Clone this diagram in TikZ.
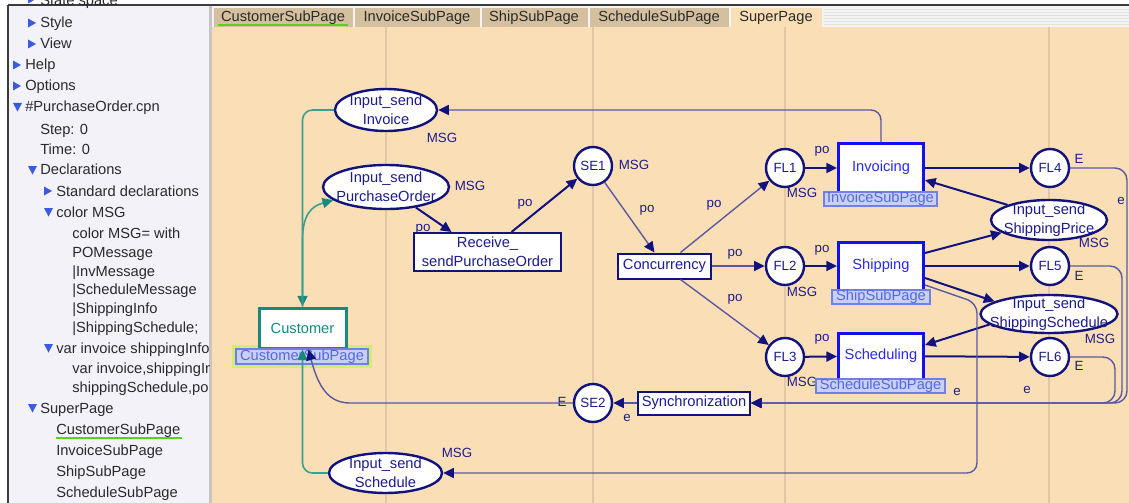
\documentclass[tikz,border=0pt]{standalone}
\usepackage{fontspec}
\setmainfont{Liberation Sans}
\usetikzlibrary{arrows.meta,shapes.geometric}
\newcommand\pxu{0.75pt}
\definecolor{canvasbg}{HTML}{FADEB6}
\definecolor{gridc}{HTML}{E0C8A6}
\definecolor{panelbg}{HTML}{F3F2F9}
\definecolor{cpnnavy}{HTML}{12127C}
\definecolor{cpntext}{HTML}{1C1C8C}
\definecolor{cpnmuted}{HTML}{5A5AA2}
\definecolor{subblue}{HTML}{1010F0}
\definecolor{subtext}{HTML}{2B2BE6}
\definecolor{tagfill}{HTML}{C9D0F7}
\definecolor{tagdraw}{HTML}{7080E4}
\definecolor{tagtext}{HTML}{5568E2}
\definecolor{tealbox}{HTML}{178A7C}
\definecolor{tealline}{HTML}{3C9E8F}
\definecolor{tabbg}{HTML}{D4C09E}
\definecolor{tabtext}{HTML}{2A2A2A}
\definecolor{trib}{HTML}{3A5AE4}
\definecolor{greenhl}{HTML}{5CD11A}
\definecolor{glowc}{HTML}{D2EE72}
\definecolor{darkline}{HTML}{3C3C3C}
\definecolor{stripec}{HTML}{E2E2E2}
\definecolor{rowbg}{HTML}{F4F4F4}
\newcommand\rtri[2]{\fill[trib] (#1,#2-4.5) -- (#1+8,#2) -- (#1,#2+4.5) -- cycle;}
\newcommand\dtri[2]{\fill[trib] (#1,#2-4) -- (#1+9,#2-4) -- (#1+4.5,#2+4.5) -- cycle;}
\tikzset{
  ptxt/.style={anchor=base west, inner sep=0pt, text=tabtext, font=\fontsize{11}{13}\selectfont},
  tabtxt/.style={anchor=base, inner sep=0pt, text=tabtext, font=\fontsize{11}{13}\selectfont},
  place/.style={ellipse, draw=cpnnavy, line width=2.4*\pxu, fill=white, inner sep=0pt},
  cplace/.style={circle, draw=cpnnavy, line width=2.4*\pxu, fill=white, inner sep=0pt, minimum size=38*\pxu, text=cpntext, font=\fontsize{10}{12}\selectfont},
  ptext/.style={align=center, text=cpntext, font=\fontsize{11}{14.25}\selectfont, inner sep=0pt},
  trans/.style={rectangle, draw=cpnnavy, line width=2*\pxu, fill=white, inner sep=0pt, align=center, text=cpntext, font=\fontsize{11}{14.25}\selectfont},
  subtrans/.style={rectangle, draw=subblue, line width=3*\pxu, fill=white, inner sep=0pt, text=subtext, font=\fontsize{11}{13}\selectfont, minimum width=85*\pxu},
  subtag/.style={rectangle, draw=tagdraw, line width=1.2*\pxu, fill=tagfill, inner sep=0pt, text=tagtext, font=\fontsize{11}{13}\selectfont, minimum height=14*\pxu},
  lbl/.style={inner sep=0pt, text=cpntext, font=\fontsize{10}{12}\selectfont, text height=7.3pt, text depth=1.8pt},
  headtip/.style={-{Triangle[length=8pt,width=7.5pt,color=cpnnavy]}},
  arcT/.style={draw=cpnnavy, line width=2*\pxu, headtip},
  arcM/.style={draw=cpnmuted, line width=1.4*\pxu, headtip},
  arcG/.style={draw=tealline, line width=1.6*\pxu, -{Triangle[length=8pt,width=7.5pt,color=tealbox]}},
}
\begin{document}
\begin{tikzpicture}[x=0.75pt,y=-0.75pt]
\useasboundingbox (0,0) rectangle (1129,503);
\fill[white] (0,0) rectangle (1129,503);
% panel
\fill[panelbg] (8,5) rectangle (209,503);
\fill[gray!45] (209,5) rectangle (212,503);
% canvas
\fill[canvasbg] (212,27) rectangle (1129,503);
% tab row
\fill[rowbg] (212,6) rectangle (1129,27);
\foreach \yy in {10,13,16,19,22,25}{\draw[stripec, line width=1*\pxu] (824,\yy) -- (1129,\yy);}
\fill[tabbg] (214,8) rectangle (353,27);
\fill[tabbg] (355,8) rectangle (480,27);
\fill[tabbg] (482,8) rectangle (588,27);
\fill[tabbg] (590,8) rectangle (729,27);
\fill[canvasbg] (731,8) rectangle (822,27);
\node[tabtxt] (t1) at (283,22) {CustomerSubPage};
\node[tabtxt] (t2) at (417,22) {InvoiceSubPage};
\node[tabtxt] (t3) at (534,22) {ShipSubPage};
\node[tabtxt] (t4) at (659,22) {ScheduleSubPage};
\node[tabtxt] (t5) at (776,22) {SuperPage};
\draw[greenhl, line width=2*\pxu] (218,25.5) -- (348,25.5);
% grid
\foreach \gx in {386,593,785,1049}{\draw[gridc, line width=2*\pxu] (\gx,27) -- (\gx,503);}
% frame lines
\draw[darkline, line width=2*\pxu] (8,5) -- (1129,5);
\draw[darkline, line width=2*\pxu] (8,5) -- (8,503);
% panel content
\begin{scope}
\clip (9,0) rectangle (209,503);
\node[ptxt] (s0) at (40,5.5) {State space};
\rtri{28}{-1}
\rtri{28}{23}  \node[ptxt] (s1) at (40,28) {Style};
\rtri{28}{44}  \node[ptxt] (s2) at (40,49) {View};
\rtri{13}{65}  \node[ptxt] (s3) at (25,70) {Help};
\rtri{13}{86}  \node[ptxt] (s4) at (25,91) {Options};
\dtri{13}{107} \node[ptxt] (s5) at (25,112) {\#PurchaseOrder.cpn};
\node[ptxt] (s6) at (40,134) {Step: 0};
\node[ptxt] (s7) at (40,154) {Time: 0};
\dtri{28}{170} \node[ptxt] (s8) at (40,175) {Declarations};
\rtri{44}{191} \node[ptxt] (s9) at (56,196) {Standard declarations};
\dtri{44}{212} \node[ptxt] (s10) at (56,217) {color MSG};
\node[ptxt] (s11) at (72,238) {color MSG= with};
\node[ptxt] (s12) at (72,257) {POMessage};
\node[ptxt] (s13) at (72,276) {|InvMessage};
\node[ptxt] (s14) at (72,294) {|ScheduleMessage};
\node[ptxt] (s15) at (72,313) {|ShippingInfo};
\node[ptxt] (s16) at (72,332) {|ShippingSchedule;};
\dtri{44}{348} \node[ptxt] (s17) at (56,353) {var invoice shippingInfo};
\node[ptxt] (s18) at (72,373) {var invoice,shippingInfo,};
\node[ptxt] (s19) at (72,392) {shippingSchedule,po};
\dtri{28}{408} \node[ptxt] (s20) at (40,413) {SuperPage};
\node[ptxt] (s21) at (56,434) {CustomerSubPage};
\draw[greenhl, line width=2*\pxu] (56,437.5) -- (182,437.5);
\node[ptxt] (s22) at (56,455) {InvoiceSubPage};
\node[ptxt] (s23) at (56,476) {ShipSubPage};
\node[ptxt] (s24) at (56,497) {ScheduleSubPage};
\end{scope}
% inscription labels
\node[lbl] (l1) at (442,139) {MSG};
\node[lbl] (l2) at (470,187) {MSG};
\node[lbl] (l3) at (423,228) {po};
\node[lbl] (l4) at (525,203) {po};
\node[lbl] (l5) at (634,166) {MSG};
\node[lbl] (l6) at (647,209) {po};
\node[lbl] (l7) at (714,204) {po};
\node[lbl] (l8) at (822,150) {po};
\node[lbl] (l9) at (802,194) {MSG};
\node[lbl] (l10) at (1079,160) {E};
\node[lbl] (l11) at (1094,244) {MSG};
\node[lbl] (l12) at (1121,201) {e};
\node[lbl] (l13) at (735,253) {po};
\node[lbl] (l14) at (822,249) {po};
\node[lbl] (l15) at (802,293) {MSG};
\node[lbl] (l16) at (1079,277) {E};
\node[lbl] (l17) at (1100,340) {MSG};
\node[lbl] (l18) at (735,298) {po};
\node[lbl] (l19) at (822,338) {po};
\node[lbl] (l20) at (802,383) {MSG};
\node[lbl] (l21) at (1079,367) {E};
\node[lbl] (l22) at (957,392) {e};
\node[lbl] (l23) at (1027,390) {e};
\node[lbl] (l24) at (562,403) {E};
\node[lbl] (l25) at (627,418) {e};
\node[lbl] (l26) at (457,454) {MSG};
% places and transitions
\node[place, minimum width=102*\pxu, minimum height=42*\pxu] (inv) at (386,110) {};
\node[ptext] (invT) at (inv) {Input\_send\\Invoice};
\node[place, minimum width=126*\pxu, minimum height=44*\pxu] (po) at (386,187) {};
\node[ptext] (poT) at (po) {Input\_send\\PurchaseOrder};
\node[trans, minimum width=147*\pxu, minimum height=38*\pxu] (rec) at (487.5,252) {Receive\_\\sendPurchaseOrder};
\node[cplace] (se1) at (593,166) {SE1};
\node[trans, minimum width=93*\pxu, minimum height=25*\pxu] (conc) at (664.5,266) {Concurrency};
\node[cplace] (fl1) at (785,168) {FL1};
\node[cplace] (fl2) at (785,266) {FL2};
\node[cplace] (fl3) at (785,357) {FL3};
\node[subtrans, minimum height=48*\pxu] (invc) at (881,168) {Invoicing};
\node[subtag, minimum width=113*\pxu] (invcTag) at (880.5,199) {InvoiceSubPage};
\node[subtrans, minimum height=48*\pxu] (ship) at (881,266) {Shipping};
\node[subtag, minimum width=98*\pxu] (shipTag) at (881,297) {ShipSubPage};
\node[subtrans, minimum height=46*\pxu] (schd) at (881,356) {Scheduling};
\node[subtag, minimum width=129*\pxu] (schdTag) at (880.5,386) {ScheduleSubPage};
\node[cplace] (fl4) at (1050,168) {FL4};
\node[cplace] (fl5) at (1050,266) {FL5};
\node[cplace] (fl6) at (1050,357) {FL6};
\node[place, minimum width=116*\pxu, minimum height=40*\pxu] (pr) at (1049,220) {};
\node[ptext] (prT) at (pr) {Input\_send\\ShippingPrice};
\node[place, minimum width=137*\pxu, minimum height=38*\pxu] (ss) at (1049,314) {};
\node[ptext] (ssT) at (ss) {Input\_send\\ShippingSchedule};
\node[trans, minimum width=112*\pxu, minimum height=23*\pxu] (sync) at (694,403) {Synchronization};
\node[cplace] (se2) at (593,403) {SE2};
\node[place, minimum width=113*\pxu, minimum height=40*\pxu] (sch) at (385.5,473) {};
\node[ptext] (schT) at (sch) {Input\_send\\Schedule};
\fill[glowc] (232,345) rectangle (372,368);
\node[rectangle, draw=tealbox, line width=3*\pxu, fill=white, text=tealbox, minimum width=87*\pxu, minimum height=40*\pxu, inner sep=0pt, font=\fontsize{11}{13}\selectfont] (cust) at (302.5,328) {Customer};
\node[subtag, minimum width=132*\pxu, minimum height=15*\pxu] (custTag) at (302,356.5) {CustomerSubPage};
% arcs
\draw[arcM, rounded corners=10*\pxu] (invc.north) |- (inv.east);
\draw[arcG, rounded corners=10*\pxu] (inv.west) -| (cust.north);
\draw[arcG] (cust.north) -- (302.5,240) .. controls (302.5,214) and (312,206) .. (po.194);
\draw[arcG, rounded corners=10*\pxu] (sch.west) -| (cust.south);
\draw[arcM] (se2.west) -- (350,403) .. controls (328,403) and (318,386) .. ([xshift=6*\pxu]cust.south);
\draw[arcT] (po) -- ([xshift=-36*\pxu]rec.north);
\draw[arcT] ([xshift=24*\pxu]rec.north) -- (se1);
\draw[arcM] (se1) -- ([xshift=-10*\pxu]conc.north);
\draw[arcM] ([xshift=16*\pxu]conc.north) -- (fl1);
\draw[arcM] (conc.east) -- (fl2);
\draw[arcM] ([xshift=16*\pxu]conc.south) -- (fl3);
\draw[arcT] (fl1) -- (invc);
\draw[arcT] (invc) -- (fl4);
\draw[arcT] (fl2) -- (ship);
\draw[arcT] (ship) -- (fl5);
\draw[arcT] (fl3) -- (schd);
\draw[arcT] (schd) -- (fl6);
\draw[arcT] (pr.160) -- ([yshift=-12*\pxu]invc.east);
\draw[arcT] ([yshift=13*\pxu]ship.east) -- (pr.195);
\draw[arcT] ([yshift=-12*\pxu]ship.east) -- (ss.167);
\draw[arcT] (ss.190) -- ([yshift=11*\pxu]schd.east);
\draw[arcM, rounded corners=10*\pxu] ([yshift=-19*\pxu]ship.east) -- (977,303) -- (977,473) -- (sch.east);
\coordinate (c4) at (1127,403);
\coordinate (c5) at (1122,403);
\coordinate (c6) at (1115,403);
\draw[arcM, rounded corners=12*\pxu] (fl4.east) -| (c4) -- (sync.east);
\draw[arcM, rounded corners=12*\pxu] (fl5.east) -| (c5) -- (sync.east);
\draw[arcM, rounded corners=12*\pxu] (fl6.east) -| (c6) -- (sync.east);
\draw[arcM] (sync.west) -- (se2);
\end{tikzpicture}
\end{document}
